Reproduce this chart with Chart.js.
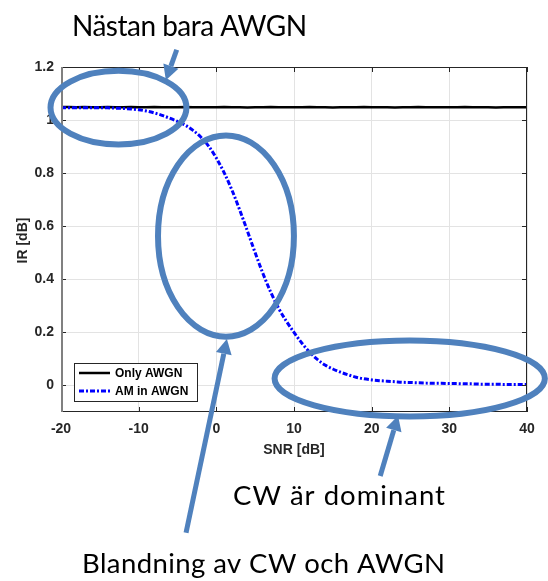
<!DOCTYPE html>
<html>
<head>
<meta charset="utf-8">
<script src="https://cdn.jsdelivr.net/npm/chart.js@4.4.0/dist/chart.umd.min.js"></script>
<style>
  body { margin: 0; background: #fff; }
  canvas { display: block; }
</style>
</head>
<body>
<canvas id="irChart" width="548" height="581"></canvas>
<script>
// SNR [dB]
const snr = [-20, -19, -18, -17, -16, -15, -14, -13, -12, -11, -10, -9, -8, -7, -6, -5, -4, -3, -2, -1,
  0, 1, 2, 3, 4, 5, 6, 7, 8, 9, 10, 11, 12, 13, 14, 15, 16, 17, 18, 19,
  20, 21, 22, 23, 24, 25, 26, 27, 28, 29, 30, 31, 32, 33, 34, 35, 36, 37, 38, 39, 40];

// IR [dB] with only noise
const onlyAwgn = [1.049, 1.049, 1.048, 1.049, 1.048, 1.048, 1.049, 1.048, 1.048, 1.049, 1.048, 1.048, 1.049, 1.048, 1.048, 1.048, 1.049, 1.048, 1.048, 1.048,
  1.048, 1.049, 1.048, 1.048, 1.047, 1.048, 1.048, 1.049, 1.048, 1.048, 1.048, 1.048, 1.049, 1.048, 1.048, 1.047, 1.048, 1.048, 1.048, 1.049,
  1.048, 1.048, 1.048, 1.047, 1.048, 1.048, 1.049, 1.048, 1.048, 1.048, 1.048, 1.048, 1.049, 1.048, 1.048, 1.048, 1.047, 1.048, 1.048, 1.048, 1.048];

// IR [dB] with AM carrier in noise
const amInAwgn = [1.046, 1.046, 1.046, 1.046, 1.046, 1.046, 1.046, 1.045, 1.044, 1.042, 1.039, 1.034, 1.027, 1.018, 1.007, 0.995, 0.981, 0.961, 0.936, 0.902,
  0.857, 0.802, 0.737, 0.662, 0.582, 0.500, 0.422, 0.352, 0.292, 0.243, 0.200, 0.160, 0.126, 0.098, 0.077, 0.062, 0.050, 0.040, 0.031, 0.025,
  0.021, 0.018, 0.016, 0.014, 0.012, 0.011, 0.010, 0.009, 0.008, 0.008, 0.007, 0.007, 0.006, 0.006, 0.005, 0.005, 0.005, 0.004, 0.004, 0.004, 0.004];

const xTicks = [-20, -10, 0, 10, 20, 30, 40];
const yTicks = [0, 0.2, 0.4, 0.6, 0.8, 1, 1.2];

const seriesNames = ['Only AWGN', 'AM in AWGN'];

// callouts, in data units: [cx, cy, rx, ry]
const ovals = [
  [-12.6, 1.047, 8.75, 0.139],
  [1.24, 0.563, 8.75, 0.379],
  [24.9, 0.026, 17.4, 0.143]
];
// arrows, in data units: [tailX, tailY, tipX, tipY]
const arrows = [
  [-5.1, 1.265, -6.5, 1.15],
  [-3.9, -0.555, 1.36, 0.175],
  [21.1, -0.341, 23.4, -0.114]
];
// notes: [text, left, baseline, font size, width]
const notes = [
  ['Nästan bara AWGN', 72, 36, 28, 235],
  ['CW är dominant', 233, 505, 27.5, 212],
  ['Blandning av CW och AWGN', 82, 573, 27.5, 363]
];

const calloutBlue = '#4f81bd';
const tickFont = { family: 'Liberation Sans, Arial, sans-serif', size: 14, weight: 'bold' };

const matlabFrame = {
  id: 'matlabFrame',
  afterDraw(chart) {
    const { ctx, chartArea: a, scales: { x, y } } = chart;
    ctx.save();

    // inward ticks on all four sides
    ctx.strokeStyle = '#262626';
    ctx.lineWidth = 1;
    ctx.beginPath();
    xTicks.forEach(v => {
      const px = Math.round(x.getPixelForValue(v)) + 0.5;
      ctx.moveTo(px, a.bottom); ctx.lineTo(px, a.bottom - 5);
      ctx.moveTo(px, a.top); ctx.lineTo(px, a.top + 5);
    });
    yTicks.forEach(v => {
      const py = Math.round(y.getPixelForValue(v)) + 0.5;
      ctx.moveTo(a.left, py); ctx.lineTo(a.left + 5, py);
      ctx.moveTo(a.right, py); ctx.lineTo(a.right - 5, py);
    });
    ctx.stroke();

    // box
    ctx.strokeRect(a.left + 0.5, a.top + 0.5, a.width - 1, a.height - 1);
    ctx.strokeStyle = '#808080';
    ctx.lineWidth = 2;
    ctx.beginPath();
    ctx.moveTo(a.left + 1, a.top); ctx.lineTo(a.left + 1, a.bottom);
    ctx.stroke();

    // axis titles
    ctx.fillStyle = '#262626';
    ctx.font = 'bold 14px Liberation Sans, Arial, sans-serif';
    ctx.textAlign = 'center';
    ctx.textBaseline = 'middle';
    ctx.fillText('SNR [dB]', (a.left + a.right) / 2, a.bottom + 38);
    ctx.save();
    ctx.translate(a.left - 38, (a.top + a.bottom) / 2 + 1);
    ctx.rotate(-Math.PI / 2);
    ctx.fillText('IR [dB]', 0, 0);
    ctx.restore();

    // legend box
    const lx = a.left + 13, ly = a.bottom - 49, lw = 123, lh = 38;
    ctx.fillStyle = '#fff';
    ctx.fillRect(lx, ly, lw, lh);
    ctx.strokeStyle = '#262626';
    ctx.lineWidth = 1;
    ctx.strokeRect(lx + 0.5, ly + 0.5, lw, lh);
    ctx.font = 'bold 12px Liberation Sans, Arial, sans-serif';
    ctx.textAlign = 'left';
    const rows = [chart.data.datasets[1], chart.data.datasets[0]];
    rows.forEach((ds, i) => {
      const ry = ly + 10 + i * 18;
      ctx.strokeStyle = ds.borderColor;
      ctx.lineWidth = ds.borderWidth;
      ctx.setLineDash(ds.borderDash || []);
      ctx.beginPath();
      ctx.moveTo(lx + 5, ry); ctx.lineTo(lx + 36, ry);
      ctx.stroke();
      ctx.setLineDash([]);
      ctx.fillStyle = '#000';
      ctx.fillText(ds.label, lx + 41, ry + 1);
    });

    // callout ovals and arrows
    ctx.strokeStyle = calloutBlue;
    ctx.fillStyle = calloutBlue;
    ctx.lineWidth = 6;
    ovals.forEach(([cx, cy, rx, ry]) => {
      const px = x.getPixelForValue(cx), py = y.getPixelForValue(cy);
      const prx = x.getPixelForValue(cx + rx) - px;
      const pry = py - y.getPixelForValue(cy + ry);
      ctx.beginPath();
      ctx.ellipse(px, py, prx, pry, 0, 0, Math.PI * 2);
      ctx.stroke();
    });
    ctx.lineWidth = 5;
    arrows.forEach(([tx, ty, hx, hy]) => {
      const x0 = x.getPixelForValue(tx), y0 = y.getPixelForValue(ty);
      const x1 = x.getPixelForValue(hx), y1 = y.getPixelForValue(hy);
      const ang = Math.atan2(y1 - y0, x1 - x0);
      const head = 15, half = 8;
      const bx = x1 - head * Math.cos(ang), by = y1 - head * Math.sin(ang);
      ctx.beginPath();
      ctx.moveTo(x0, y0); ctx.lineTo(bx, by);
      ctx.stroke();
      ctx.beginPath();
      ctx.moveTo(x1, y1);
      ctx.lineTo(bx + half * Math.sin(ang), by - half * Math.cos(ang));
      ctx.lineTo(bx - half * Math.sin(ang), by + half * Math.cos(ang));
      ctx.closePath();
      ctx.fill();
    });

    // notes, spaced out to their set width
    ctx.fillStyle = '#000';
    ctx.textAlign = 'left';
    ctx.textBaseline = 'alphabetic';
    notes.forEach(([text, left, base, size, width]) => {
      ctx.font = size + 'px Lato, sans-serif';
      ctx.letterSpacing = '0px';
      const w = ctx.measureText(text).width;
      ctx.letterSpacing = ((width - w) / (text.length - 1)).toFixed(2) + 'px';
      ctx.fillText(text, left, base);
    });
    ctx.letterSpacing = '0px';

    ctx.restore();
  }
};

new Chart('irChart', {
  type: 'line',
  data: {
    labels: snr,
    datasets: [{
      label: seriesNames[1],
      data: amInAwgn,
      borderColor: '#0000ff',
      borderWidth: 3,
      borderDash: [5, 2, 2, 2],
      pointRadius: 0,
      cubicInterpolationMode: 'monotone',
      fill: false,
      order: 0
    }, {
      label: seriesNames[0],
      data: onlyAwgn,
      borderColor: '#000000',
      borderWidth: 2.5,
      pointRadius: 0,
      fill: false,
      order: 1
    }]
  },
  options: {
    responsive: false,
    animation: false,
    layout: { padding: { top: 67, right: 21, left: 0, bottom: 0 } },
    plugins: { legend: { display: false }, tooltip: { enabled: false } },
    scales: {
      x: {
        type: 'linear',
        min: -20,
        max: 40,
        afterBuildTicks: s => { s.ticks = xTicks.map(v => ({ value: v })); },
        afterFit: s => { s.height = 169; },
        grid: { color: '#e3e3e3', drawTicks: false },
        border: { display: false },
        ticks: { color: '#262626', font: tickFont, padding: 9, maxRotation: 0 }
      },
      y: {
        min: -0.1,
        max: 1.2,
        afterBuildTicks: s => { s.ticks = yTicks.map(v => ({ value: v })); },
        afterFit: s => { s.width = 61; },
        grid: { color: '#e3e3e3', drawTicks: false },
        border: { display: false },
        ticks: {
          color: '#262626', font: tickFont, padding: 7,
          callback: v => String(+v.toFixed(1))
        }
      }
    }
  },
  plugins: [matlabFrame]
});
</script>
</body>
</html>
